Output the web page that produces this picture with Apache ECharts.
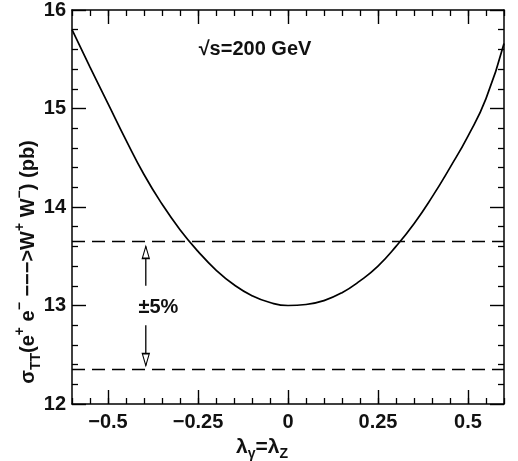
<!DOCTYPE html>
<html><head><meta charset="utf-8">
<script src="https://cdn.jsdelivr.net/npm/echarts@6/dist/echarts.min.js"></script>
<style>html,body{margin:0;padding:0;background:#fff}#c{width:518px;height:461px}</style>
</head><body><div id="c"></div>
<script>
// lambda_gamma = lambda_Z values
const lambda = [-0.6,-0.55,-0.5,-0.45,-0.4,-0.35,-0.3,-0.25,-0.2,-0.15,-0.1,-0.05,0,0.05,0.1,0.15,0.2,0.25,0.3,0.35,0.4,0.45,0.5,0.55,0.6];
// sigma_TT (pb)
const sigma = [15.80,15.42,15.05,14.68,14.33,14.03,13.77,13.55,13.36,13.21,13.10,13.03,13.00,13.01,13.05,13.13,13.25,13.40,13.60,13.83,14.10,14.40,14.72,15.10,15.66];
// +-5% band levels
const bandLevels = [13.65, 12.35];
const xMajorTicks = [-0.5,-0.25,0,0.25,0.5];
const xRange = [-0.6, 0.6];
const yRange = [12, 16];
const arrowX = -0.395;
const upperArrow = [13.2, 13.6];
const lowerArrow = [12.8, 12.39];
const bandLabel = {text:'\u00b15%', at:[-0.36, 12.98]};

const FONT = '"Liberation Sans", Arial, Helvetica, sans-serif';
const chart = echarts.init(document.getElementById('c'), null, {renderer:'canvas'});
const fmtX = v => {
  if (Math.abs(v) < 1e-9) return '0';
  const s = String(Math.round(v*100)/100);
  return s.replace('-', '\u2212');
};
const axLine = {onZero:false, lineStyle:{color:'#000', width:1.5}};
function xAx(pos, major, labels){
  const a = {type:'value', min:xRange[0], max:xRange[1], position:pos,
    axisLine: major ? axLine : {show:false, onZero:false},
    splitLine:{show:false},
    axisLabel:{show:false}};
  if (major){
    a.axisTick = {show:true, inside:true, length:14, customValues:xMajorTicks, lineStyle:{color:'#000', width:1.4}};
    if (labels) a.axisLabel = {show:true, customValues:xMajorTicks, formatter:fmtX, fontSize:20, fontWeight:'bold', color:'#111', fontFamily:FONT, margin:8};
  } else {
    a.interval = 0.05;
    a.axisTick = {show:true, inside:true, length:6, lineStyle:{color:'#000', width:1.3}};
  }
  return a;
}
function yAx(pos, labels){
  return {type:'value', min:yRange[0], max:yRange[1], interval:1, position:pos,
    axisLine:axLine,
    axisTick:{show:true, inside:true, length:14, lineStyle:{color:'#000', width:1.4}},
    minorTick:{show:true, splitNumber:5, length:6, lineStyle:{color:'#000', width:1.3}},
    splitLine:{show:false}, minorSplitLine:{show:false},
    axisLabel: labels ? {show:true, fontSize:20, fontWeight:'bold', color:'#111', fontFamily:FONT, margin:6} : {show:false}};
}
const series = [];
series.push({type:'line', xAxisIndex:0, yAxisIndex:0, data:lambda.map((x,i)=>[x,sigma[i]]),
  smooth:true, symbol:'none', lineStyle:{color:'#000', width:1.7}, silent:true});
bandLevels.forEach(l => series.push({type:'line', xAxisIndex:0, yAxisIndex:0,
  data:[[xRange[0], l],[xRange[1], l]], symbol:'none',
  lineStyle:{color:'#000', width:1.6, type:[13,7]}, silent:true}));
series.push({type:'line', xAxisIndex:0, yAxisIndex:0, symbol:'none', showSymbol:true,
  data:[[arrowX, upperArrow[0]], {value:[arrowX, upperArrow[1]], symbol:'triangle', symbolSize:[7,12], symbolOffset:[0,6]}],
  lineStyle:{color:'#000', width:1.3}, itemStyle:{color:'#fff', borderColor:'#000', borderWidth:1.3}, silent:true});
series.push({type:'line', xAxisIndex:0, yAxisIndex:0, symbol:'none', showSymbol:true,
  data:[[arrowX, lowerArrow[0]], {value:[arrowX, lowerArrow[1]], symbol:'triangle', symbolRotate:180, symbolSize:[7,12], symbolOffset:[0,-6]}],
  lineStyle:{color:'#000', width:1.3}, itemStyle:{color:'#fff', borderColor:'#000', borderWidth:1.3}, silent:true});
series.push({type:'scatter', xAxisIndex:0, yAxisIndex:0, symbolSize:1, silent:true,
  itemStyle:{opacity:1, color:'#fff'},
  data:[bandLabel.at],
  label:{show:true, position:'inside', formatter:bandLabel.text, fontSize:20, fontWeight:'bold', color:'#111', fontFamily:FONT}});

chart.setOption({
  animation:false,
  backgroundColor:'#fff',
  grid:{left:72, right:14, top:7, bottom:57, containLabel:false},
  xAxis:[xAx('bottom', true, true), xAx('bottom', false), xAx('top', true, false), xAx('top', false)],
  yAxis:[yAx('left', true), yAx('right', false)],
  series,
  graphic:[
    {type:'text', x:255, y:49, style:{text:'\u221as=200 GeV', fontSize:20, fontWeight:'bold', fontFamily:FONT, fill:'#111', align:'center', verticalAlign:'middle'}},
    {type:'text', x:262, y:447, style:{text:'\u03bb{sub|\u03b3}=\u03bb{sub|Z}', fontSize:21, fontWeight:'bold', fontFamily:FONT, fill:'#111', align:'center', verticalAlign:'middle', lineHeight:28,
      rich:{sub:{fontSize:14, fontWeight:'bold', fontFamily:FONT, verticalAlign:'bottom', lineHeight:28, fill:'#111'}}}},
    {type:'text', x:28, y:262, rotation:Math.PI/2, style:{text:'\u03c3{sub|TT}(e{sup|+} e{sup|\u2212} \u2212\u2212\u2212>W{sup|+} W{sup|\u2212}) (pb)', fontSize:20, fontWeight:'bold', fontFamily:FONT, fill:'#111', align:'center', verticalAlign:'middle', lineHeight:30,
      rich:{sub:{fontSize:14, fontWeight:'bold', fontFamily:FONT, verticalAlign:'bottom', lineHeight:30, fill:'#111'}, sup:{fontSize:14, fontWeight:'bold', fontFamily:FONT, verticalAlign:'top', lineHeight:30, fill:'#111'}}}}
  ]
});
</script></body></html>
